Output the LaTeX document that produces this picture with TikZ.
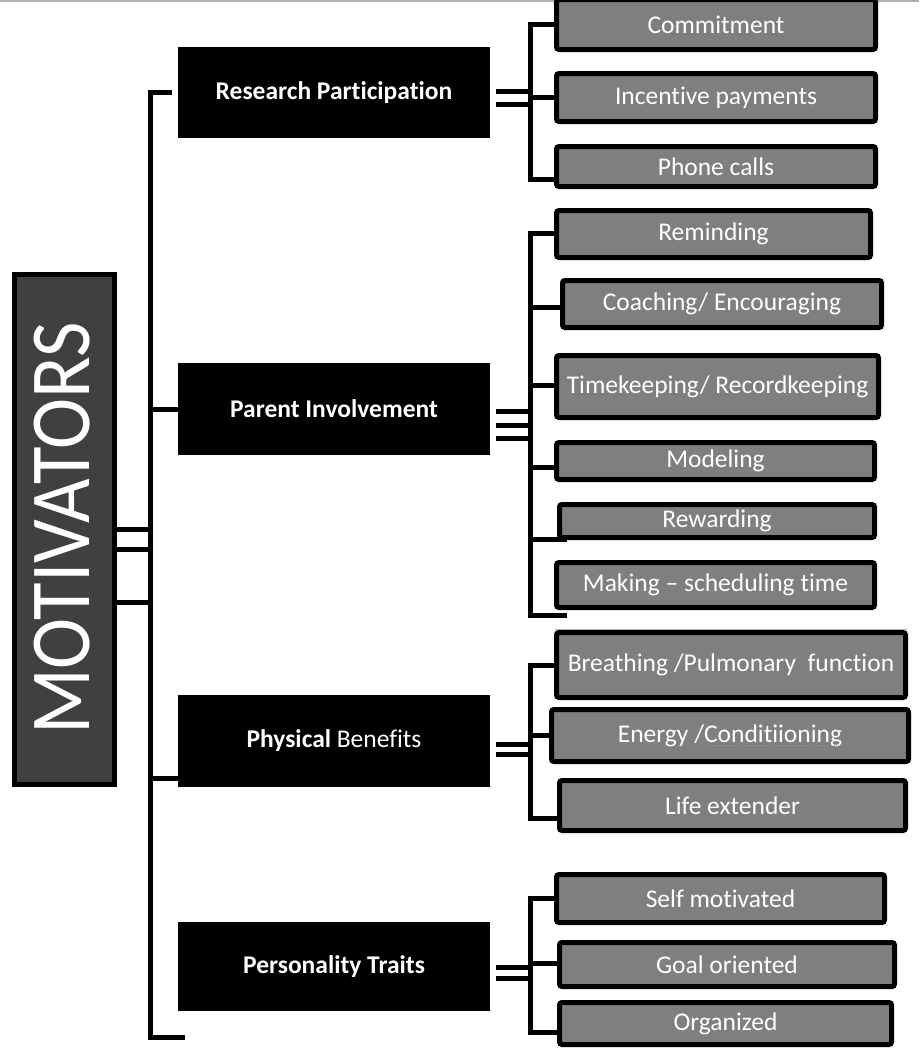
\documentclass[tikz,border=0pt]{standalone}
\usepackage{fontspec}
\setmainfont{Carlito}[Ligatures={NoCommon}]
\usepackage{graphicx}
\definecolor{leafgray}{RGB}{127,127,127}
\definecolor{motgray}{RGB}{64,64,64}
\definecolor{pagegray}{RGB}{176,176,176}
\begin{document}
\begin{tikzpicture}[x=1pt,y=-1pt,
  leaf/.style={draw=black, line width=5pt, fill=leafgray, rounded corners=2.5pt,
    text=white, inner sep=0pt, font=\fontsize{25.5}{30}\selectfont},
  cat/.style={fill=black, draw=none, inner sep=0pt, text=white,
    font=\fontsize{25.5}{30}\selectfont\bfseries},
  conn/.style={draw=black, line width=5pt, line join=miter},
]
\useasboundingbox (0,0) rectangle (919,1050);
\draw[pagegray, line width=1.5pt] (0,0.75) -- (919,0.75);
\draw[pagegray, line width=1pt] (555,629) -- (907,629);

% root
\node[draw=black, line width=5pt, fill=motgray, minimum width=100pt, minimum height=510pt, inner sep=0pt] (mot) at (64.5,529.5) {};
\node[rotate=90, text=white, inner sep=0pt] (motlbl) at (62,528.5) {\scalebox{1}[1.11]{\fontsize{77}{80}\selectfont MOTIVATORS}};

% categories
\node[cat, minimum width=312pt, minimum height=91pt] (res) at (334,92.5) {Research Participation};
\node[cat, minimum width=312pt, minimum height=92pt] (par) at (334,409) {Parent Involvement};
\node[cat, minimum width=312pt, minimum height=92pt] (phy) at (334,741) {Physical \mdseries Benefits};
\node[cat, minimum width=312pt, minimum height=89pt] (per) at (334,966.5) {Personality Traits};

% leaves
\node[leaf, minimum width=319pt, minimum height=50pt] (commit) at (716,24.5) {Commitment};
\node[leaf, minimum width=319pt, minimum height=48pt] (incent) at (716,97.5) {Incentive payments};
\node[leaf, minimum width=319pt, minimum height=40pt] (phone) at (716,166.5) {Phone calls};

\node[leaf, minimum width=314pt, minimum height=47pt] (remind) at (713.5,234) {Reminding};
\node[leaf, minimum width=319pt, minimum height=47pt] (coach) at (722,304) {Coaching/ Encouraging};
\node[leaf, minimum width=322pt, minimum height=62pt] (timek) at (717.5,386.5) {Timekeeping/ Recordkeeping};
\node[leaf, minimum width=318pt, minimum height=37pt] (model) at (715.5,461) {Modeling};
\node[leaf, minimum width=315pt, minimum height=33pt] (reward) at (717,521) {Rewarding};
\node[leaf, minimum width=318pt, minimum height=45pt] (making) at (715.5,585) {Making -- scheduling time};

\node[leaf, minimum width=349pt, minimum height=65pt] (breath) at (731,665) {Breathing /Pulmonary\ \ function};
\node[leaf, minimum width=357pt, minimum height=52pt] (energy) at (730,735.5) {Energy /Conditiioning};
\node[leaf, minimum width=346pt, minimum height=50pt] (life) at (732.5,805.5) {Life extender};

\node[leaf, minimum width=328pt, minimum height=48pt] (selfm) at (720.5,898.5) {Self motivated};
\node[leaf, minimum width=335pt, minimum height=44pt] (goal) at (727,964.5) {Goal oriented};
\node[leaf, minimum width=332pt, minimum height=42pt] (organ) at (725.5,1023.5) {Organized};

% spell-check underline
\draw[gray!75, line width=0.9pt, dotted] (703,745) -- (845,745);

% trunk
\coordinate (trtop) at (150,92);
\coordinate (trbot) at (150,1037);
\coordinate (trtick) at (172,92);
\draw[conn] (trtick) -- (trtop) -- (trbot) -- (185,1037);
\draw[conn] (150,409) -- (par.west |- 0,409);
\draw[conn] (150,778) -- (phy.west |- 0,778);
\foreach \yy in {529,549,602}
  \draw[conn] (mot.east |- 0,\yy) -- (150,\yy);

% research group
\coordinate (rv) at (530,24);
\draw[conn] (commit.west |- rv) -- (rv) -- (530,179) -- (phone.west |- 0,179);
\draw[conn] (530,97) -- (incent.west |- 0,97);
\draw[conn] (496,91.5) -- (530,91.5);
\draw[conn] (496,104.5) -- (530,104.5);

% parent group
\coordinate (pv) at (530,233);
\draw[conn] (remind.west |- pv) -- (pv) -- (530,615) -- (567,615);
\draw[conn] (530,307) -- (coach.west |- 0,307);
\draw[conn] (530,385) -- (timek.west |- 0,385);
\draw[conn] (530,467) -- (model.west |- 0,467);
\draw[conn] (530,539) -- (567,539);
\foreach \yy in {411,425.5,438.5}
  \draw[conn] (496,\yy) -- (533,\yy);

% physical group
\coordinate (fv) at (530,665);
\draw[conn] (breath.west |- fv) -- (fv) -- (530,818) -- (life.west |- 0,818);
\draw[conn] (530,735) -- (energy.west |- 0,735);
\draw[conn] (496,744) -- (530,744);
\draw[conn] (496,754) -- (530,754);

% personality group
\coordinate (sv) at (530,898);
\draw[conn] (selfm.west |- sv) -- (sv) -- (530,1032) -- (organ.west |- 0,1032);
\draw[conn] (530,963) -- (goal.west |- 0,963);
\draw[conn] (496,967) -- (530,967);
\draw[conn] (496,978) -- (530,978);
\end{tikzpicture}
\end{document}
